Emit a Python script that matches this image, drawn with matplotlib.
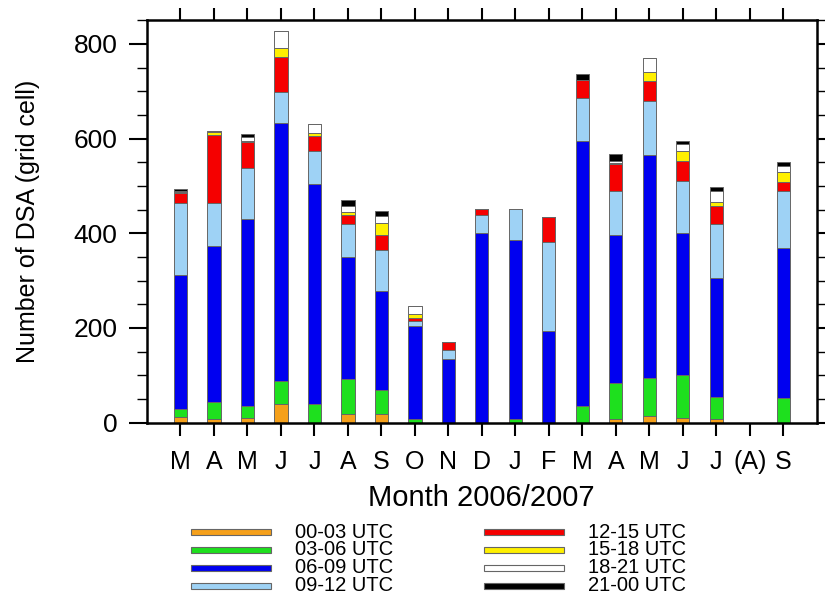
import numpy as np
import matplotlib
matplotlib.use("Agg")
import matplotlib.pyplot as plt
from matplotlib.patches import Rectangle

plt.rcParams['font.family'] = ['Liberation Sans', 'DejaVu Sans']

months = ['M', 'A', 'M', 'J', 'J', 'A', 'S', 'O', 'N', 'D',
          'J', 'F', 'M', 'A', 'M', 'J', 'J', '(A)', 'S']

# DSA counts per 3-hour window (grid cells), one value per month
utc_00_03 = [12, 7, 9, 39, 0, 19, 19, 0, 0, 0, 0, 0, 0, 7, 14, 9, 7, 0, 0]
utc_03_06 = [16, 37, 26, 50, 40, 73, 50, 7, 0, 0, 7, 0, 35, 77, 80, 91, 48, 0, 52]
utc_06_09 = [285, 329, 395, 545, 465, 259, 209, 197, 135, 401, 379, 194, 561, 312, 471, 301, 251, 0, 316]
utc_09_12 = [152, 92, 107, 65, 68, 68, 86, 10, 19, 38, 66, 187, 90, 93, 114, 110, 113, 0, 121]
utc_12_15 = [21, 142, 56, 73, 32, 20, 33, 7, 16, 13, 0, 54, 37, 57, 43, 42, 39, 0, 20]
utc_15_18 = [2, 8, 2, 20, 7, 7, 25, 8, 0, 0, 0, 0, 0, 2, 18, 20, 9, 0, 20]
utc_18_21 = [2, 2, 9, 36, 18, 12, 15, 17, 0, 0, 0, 0, 0, 4, 31, 16, 22, 0, 14]
utc_21_00 = [3, 0, 6, 0, 0, 13, 10, 0, 0, 0, 0, 0, 13, 15, 0, 7, 8, 0, 7]

series = [utc_00_03, utc_03_06, utc_06_09, utc_09_12,
          utc_12_15, utc_15_18, utc_18_21, utc_21_00]
labels = ['00-03 UTC', '03-06 UTC', '06-09 UTC', '09-12 UTC',
          '12-15 UTC', '15-18 UTC', '18-21 UTC', '21-00 UTC']
colors = ['#F5A01A', '#1EE01E', '#0000F0', '#9ED2F5',
          '#F50000', '#FFF000', '#FFFFFF', '#000000']

fig = plt.figure(figsize=(8.25, 5.97), dpi=100)
ax = fig.add_axes([0.178, 0.292, 0.812, 0.674])

x = np.arange(1, len(months) + 1)
bottom = np.zeros(len(months))
for vals, col in zip(series, colors):
    vals = np.array(vals, dtype=float)
    ax.bar(x, vals, width=0.4, bottom=bottom, color=col,
           edgecolor='#666666', linewidth=0.7)
    bottom += vals

ax.set_xlim(0, 20)
ax.set_ylim(0, 850)
ax.set_xticks(x)
ax.set_xticklabels(months, fontsize=18)
ax.set_yticks([0, 200, 400, 600, 800])
ax.set_yticks(np.arange(0, 851, 50), minor=True)
ax.tick_params(axis='y', labelsize=19)
ax.tick_params(axis='both', which='major', direction='out', width=1.5,
               top=True, right=True, length=13)
ax.tick_params(axis='y', which='major', pad=8)
ax.tick_params(axis='x', which='major', length=9, pad=11)
ax.tick_params(axis='y', which='minor', direction='out', width=1.0,
               length=7, right=True)
ax.tick_params(axis='x', which='minor', bottom=False, top=False)
for s in ax.spines.values():
    s.set_linewidth(1.8)

ax.set_ylabel('Number of DSA (grid cell)', fontsize=18, labelpad=24)
ax.set_xlabel('Month 2006/2007', fontsize=21, labelpad=7)

# legend below the plot, two columns of long bar swatches
W, H = 825.0, 597.0
rows = [532, 549.5, 567.5, 585.5]
for i, (lab, col) in enumerate(zip(labels, colors)):
    colx = 191 if i < 4 else 484
    tx = 295 if i < 4 else 588
    yy = rows[i % 4]
    fig.add_artist(Rectangle((colx / W, 1 - (yy + 3) / H), 80 / W, 6 / H,
                             transform=fig.transFigure, facecolor=col,
                             edgecolor='#666666', linewidth=0.8))
    fig.text(tx / W, 1 - yy / H, lab, fontsize=14.5, va='center', ha='left')

fig.savefig('out.png', dpi=100)
